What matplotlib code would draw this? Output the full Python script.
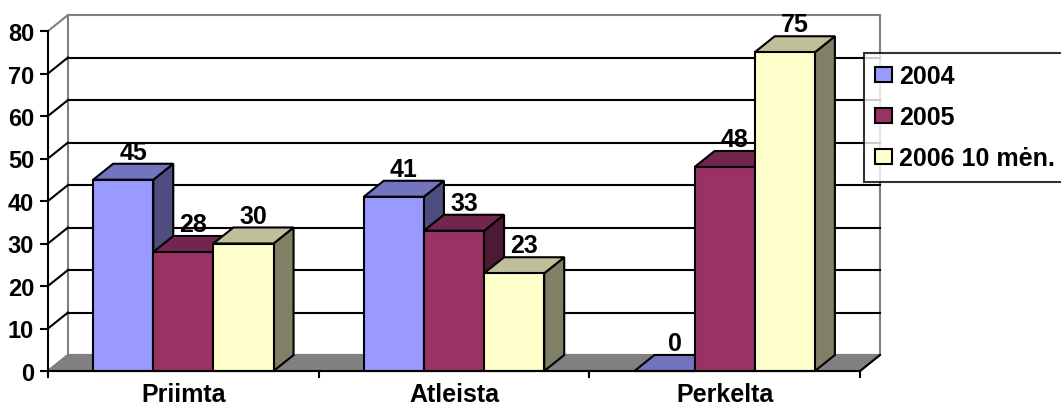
import matplotlib.pyplot as plt
from matplotlib.patches import Rectangle, Polygon

plt.rcParams['font.family'] = ['Liberation Sans', 'DejaVu Sans']
plt.rcParams['font.weight'] = 'bold'

categories = ['Priimta', 'Atleista', 'Perkelta']
series = ['2004', '2005', '2006 10 mėn.']
v2004 = [45, 41, 0]
v2005 = [28, 33, 48]
v2006 = [30, 23, 75]
yticks = [0, 10, 20, 30, 40, 50, 60, 70, 80]

# front / top / side shades for each series
front = ['#9999FF', '#993366', '#FFFFCC']
top = ['#7373BF', '#73264D', '#BFBF99']
side = ['#4D4D80', '#4D1A33', '#808066']

fig = plt.figure(figsize=(10.61, 4.10), dpi=100)
ax = fig.add_axes([48/1061, 38/410, 812/1061, 340/410])
ax.set_xlim(0, 3)
ax.set_ylim(0, 80)
ax.patch.set_visible(False)

# depth of the 3d box in data units
DX = 20 / (812 / 3)
DY = 16 / (340 / 80)
lw = 1.5
ymax = yticks[-1]

# back wall
wall = Rectangle((DX, DY), 3, ymax, facecolor='white', edgecolor='#808080',
                 lw=lw, clip_on=False, zorder=0)
ax.add_patch(wall)
# floor
floor = Polygon([(0, 0), (3, 0), (3 + DX, DY), (DX, DY)], closed=True,
                facecolor='#808080', edgecolor='#808080', lw=lw, clip_on=False, zorder=1)
ax.add_patch(floor)
ax.plot([3, 3 + DX], [0, DY], color='black', lw=lw, clip_on=False, zorder=1)

# gridlines on the back wall and the left side wall
for v in yticks:
    col = '#808080' if v in (0, ymax) else 'black'
    if 0 < v < ymax:
        ax.plot([DX, 3 + DX], [v + DY, v + DY], color='black', lw=lw,
                clip_on=False, zorder=1)
    ax.plot([0, DX], [v, v + DY], color=col, lw=lw, clip_on=False, zorder=1)

values = [v2004, v2005, v2006]
w = 1 / (1.5 * len(series))   # gap width 50%
z = 2
for i, cat in enumerate(categories):
    for j in range(len(series)):
        v = values[j][i]
        x0 = i + (1 - w * len(series)) / 2 + j * w
        ax.add_patch(Polygon([(x0 + w, 0), (x0 + w + DX, DY), (x0 + w + DX, v + DY), (x0 + w, v)],
                             closed=True, facecolor=side[j], edgecolor='black',
                             lw=lw, clip_on=False, zorder=z))
        ax.add_patch(Polygon([(x0, v), (x0 + w, v), (x0 + w + DX, v + DY), (x0 + DX, v + DY)],
                             closed=True, facecolor=top[j], edgecolor='black',
                             lw=lw, clip_on=False, zorder=z))
        ax.add_patch(Rectangle((x0, 0), w, v, facecolor=front[j], edgecolor='black',
                               lw=lw, clip_on=False, zorder=z))
        ax.annotate(str(v), (x0 + w / 2 + DX / 2, v + DY), xytext=(0, 3.5),
                    textcoords='offset points', ha='center', va='baseline',
                    fontsize=18, fontweight='bold', zorder=z + 1, annotation_clip=False)
        z += 1

# axes
for s in ['top', 'right']:
    ax.spines[s].set_visible(False)
ax.spines['left'].set_linewidth(lw)
ax.spines['bottom'].set_linewidth(lw)
ax.spines['left'].set_zorder(z + 2)
ax.spines['bottom'].set_zorder(z + 2)
ax.set_yticks(yticks)
ax.tick_params(axis='y', length=6, width=lw, pad=4, labelsize=17)
ax.set_xticks([0, 1, 2, 3])
ax.set_xticklabels([])
ax.set_xticks([0.5, 1.5, 2.5], minor=True)
ax.set_xticklabels(categories, minor=True)
ax.tick_params(axis='x', which='major', length=5, width=lw)
ax.tick_params(axis='x', which='minor', length=0, pad=8, labelsize=18)
for t in ax.get_yticklabels() + ax.get_xticklabels(minor=True):
    t.set_fontweight('bold')

handles = [Rectangle((0, 0), 1, 1, facecolor=front[j], edgecolor='black', lw=lw)
           for j in range(len(series))]
leg = fig.legend(handles, series, loc='upper left', bbox_to_anchor=(864/1061, 1 - 54/410),
                 prop={'size': 18, 'weight': 'bold'}, frameon=True, fancybox=False,
                 edgecolor='black', handlelength=0.68, handleheight=0.6,
                 handletextpad=0.28, labelspacing=0.68, borderpad=0.45, borderaxespad=0)
leg.get_frame().set_linewidth(lw)

fig.savefig('out.png', dpi=100)
